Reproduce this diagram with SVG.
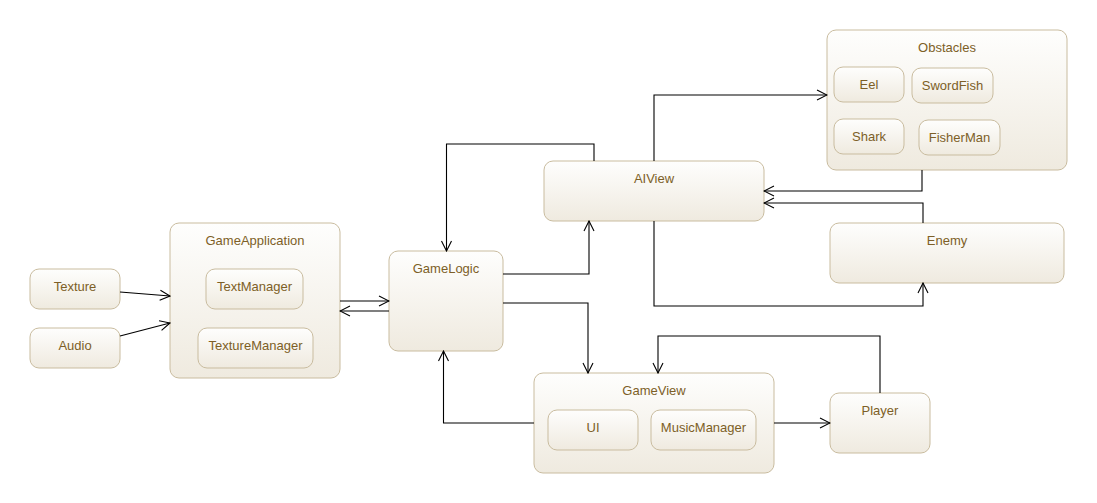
<svg xmlns="http://www.w3.org/2000/svg" width="1097" height="503" viewBox="0 0 1097 503">
<style>
.n{fill:url(#g);stroke:#c9bc9f;stroke-width:1}
.t{font-family:"Liberation Sans",Arial,sans-serif;font-size:13px;fill:#7d5f27;text-anchor:middle}
.c{fill:none;stroke:#000;stroke-width:1.1}
</style>
<defs>
<linearGradient id="g" x1="0" y1="0" x2="0" y2="1">
<stop offset="0" stop-color="#fefefd"/>
<stop offset="1" stop-color="#efeadf"/>
</linearGradient>
<marker id="a" markerWidth="12" markerHeight="12" refX="11" refY="6" orient="auto" markerUnits="userSpaceOnUse">
<path d="M1,1 L11,6 L1,11" fill="none" stroke="#000" stroke-width="1.1"/>
</marker>
</defs>
<rect width="1097" height="503" fill="#fff"/>
<g id="Texture"><rect class="n" x="30" y="269" width="90" height="40" rx="9"/><text class="t" x="75" y="291">Texture</text></g>
<g id="Audio"><rect class="n" x="30" y="328" width="90" height="40" rx="9"/><text class="t" x="75" y="350">Audio</text></g>
<g id="GameApplication"><rect class="n" x="170" y="223" width="170" height="155" rx="9"/><text class="t" x="255" y="245">GameApplication</text>
<g id="TextManager"><rect class="n" x="206" y="269" width="97" height="40" rx="9"/><text class="t" x="254.5" y="291">TextManager</text></g>
<g id="TextureManager"><rect class="n" x="198" y="328" width="115" height="40" rx="9"/><text class="t" x="255.5" y="350">TextureManager</text></g>
</g>
<g id="GameLogic"><rect class="n" x="389" y="251" width="114" height="100" rx="9"/><text class="t" x="446" y="273">GameLogic</text></g>
<g id="AIView"><rect class="n" x="544" y="161" width="220" height="60" rx="9"/><text class="t" x="654" y="183">AIView</text></g>
<g id="Obstacles"><rect class="n" x="827" y="30" width="240" height="140" rx="9"/><text class="t" x="947" y="52">Obstacles</text>
<g id="Eel"><rect class="n" x="834" y="67" width="70" height="35" rx="9"/><text class="t" x="869" y="89">Eel</text></g>
<g id="SwordFish"><rect class="n" x="912" y="68" width="81" height="35" rx="9"/><text class="t" x="952.5" y="90">SwordFish</text></g>
<g id="Shark"><rect class="n" x="834" y="119" width="70" height="35" rx="9"/><text class="t" x="869" y="141">Shark</text></g>
<g id="FisherMan"><rect class="n" x="919" y="120" width="81" height="35" rx="9"/><text class="t" x="959.5" y="142">FisherMan</text></g>
</g>
<g id="Enemy"><rect class="n" x="830" y="223" width="234" height="60" rx="9"/><text class="t" x="947" y="245">Enemy</text></g>
<g id="GameView"><rect class="n" x="534" y="373" width="240" height="100" rx="9"/><text class="t" x="654" y="395">GameView</text>
<g id="UI"><rect class="n" x="548" y="410" width="90" height="40" rx="9"/><text class="t" x="593" y="432">UI</text></g>
<g id="MusicManager"><rect class="n" x="651" y="410" width="105" height="40" rx="9"/><text class="t" x="703.5" y="432">MusicManager</text></g>
</g>
<g id="Player"><rect class="n" x="830" y="393" width="100" height="60" rx="9"/><text class="t" x="880" y="415">Player</text></g>
<g id="connectors">
<path class="c" d="M120,292 L170,296" marker-end="url(#a)"/>
<path class="c" d="M120,336 L170,323" marker-end="url(#a)"/>
<path class="c" d="M340,301 L389,301" marker-end="url(#a)"/>
<path class="c" d="M389,311 L340,311" marker-end="url(#a)"/>
<path class="c" d="M594,161 L594,144 L446.5,144 L446.5,251" marker-end="url(#a)"/>
<path class="c" d="M654,161 L654,95 L827,95" marker-end="url(#a)"/>
<path class="c" d="M922,170 L922,191 L764,191" marker-end="url(#a)"/>
<path class="c" d="M923,223 L923,203 L764,203" marker-end="url(#a)"/>
<path class="c" d="M654,221 L654,306 L923,306 L923,283" marker-end="url(#a)"/>
<path class="c" d="M503,274 L589,274 L589,221" marker-end="url(#a)"/>
<path class="c" d="M503,303 L588,303 L588,373" marker-end="url(#a)"/>
<path class="c" d="M880,393 L880,336 L658,336 L658,373" marker-end="url(#a)"/>
<path class="c" d="M774,423 L830,423" marker-end="url(#a)"/>
<path class="c" d="M534,423 L443.5,423 L443.5,351" marker-end="url(#a)"/>
</g>
</svg>
